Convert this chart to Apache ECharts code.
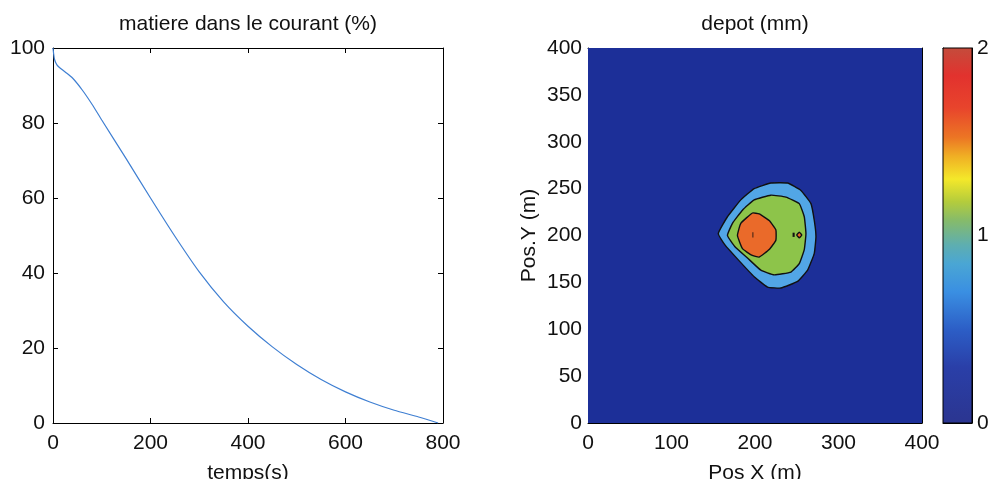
<!DOCTYPE html>
<html>
<head>
<meta charset="utf-8">
<script src="https://cdn.jsdelivr.net/npm/echarts@6/dist/echarts.min.js"></script>
<style>
html,body{margin:0;padding:0;background:#fff;}
#c{width:989px;height:479px;}
</style>
</head>
<body>
<div id="c"></div>
<script>
// ---- left panel: matter remaining in the current (%) vs time (s)
const timeS      = [0, 3, 8, 15, 25, 40, 60, 80, 100, 150, 200, 250, 300, 350, 400, 450, 500, 550, 600, 650, 700, 750, 790];
const matierePct = [100, 97, 95.5, 94.6, 93.6, 92, 88.8, 85, 80.8, 70.5, 60, 49.8, 40.3, 32.3, 25.8, 20.3, 15.6, 11.6, 8.3, 5.6, 3.4, 1.6, 0];

// ---- right panel: deposit (mm) contour regions, in metres
const contourDomain = [[0, 0], [400, 0], [400, 400], [0, 400]];
const contourBlue = [[156, 202], [167, 220], [183, 238], [199, 250], [219, 256], [239, 256], [255, 248], [267, 234], [271, 216], [273, 199], [271, 181], [263, 163], [251, 151], [231, 144], [215, 145], [199, 156], [180, 174], [164, 190]];
const contourGreen = [[167, 200], [173, 213], [185, 227], [199, 238], [219, 243], [237, 241], [253, 234], [259, 220], [261, 202], [259, 185], [253, 170], [243, 161], [223, 158], [207, 163], [191, 176], [176, 188]];
const contourOrange = [[179, 200], [183, 213], [197, 224], [205, 223], [217, 216], [225, 206], [225, 195], [217, 185], [205, 177], [196, 179], [185, 186]];
const contourSpot = [[250, 200.5], [253, 203.5], [256, 200.5], [253, 197.5]];
const contourMarkA = [[197, 198], [198, 198], [198, 203.5], [197, 203.5]];
const contourMarkB = [[245, 198.5], [247.5, 198.5], [247.5, 203], [245, 203]];
const depotRegions = [contourDomain, contourBlue, contourGreen, contourOrange, contourSpot, contourMarkA, contourMarkB];
const depotLevels  = [0, 0.6, 1.1, 1.75, 1.75, 2, 2];

// ---- colour bar
const cbarValues = [0, 0.3, 0.5, 0.7, 0.85, 0.95, 1.08, 1.18, 1.3, 1.42, 1.52, 1.68, 1.85, 2.0];
const cbarColors = ['#2b3590', '#2a3fa8', '#2c5ec6', '#3a8fe2', '#4aa6d4', '#5eaeb0', '#86bb6a', '#b4cc3c', '#f4e82a', '#f0b024', '#ec7624', '#e8442c', '#e2322e', '#c44c3c'];
const cbarRange = [0, 2];

const regionFill = ['#1c2f98', '#52a6e6', '#8dc44a', '#ea6a2a', '#ea6a2a', '#111', '#111'];

const FONT = "'Liberation Sans', Arial, Helvetica, sans-serif";
const TXT = '#111';
const FS = 21;

function ax(grid, pos, min, max, interval, labels, extra) {
  const a = {
    type: 'value', gridIndex: grid, position: pos, min: min, max: max, interval: interval,
    axisLine: { show: true, onZero: false, lineStyle: { color: '#000', width: 1 } },
    axisTick: { show: true, inside: true, length: 5, lineStyle: { color: '#000', width: 1 } },
    splitLine: { show: false },
    axisLabel: { show: labels, color: TXT, fontSize: FS, fontFamily: FONT, margin: 8 }
  };
  return Object.assign(a, extra || {});
}
const nameStyle = { fontSize: FS, color: TXT, fontFamily: FONT };

const chart = echarts.init(document.getElementById('c'), null, { renderer: 'canvas' });

const gradStops = cbarValues.map((v, i) => ({ offset: 1 - (v - cbarRange[0]) / (cbarRange[1] - cbarRange[0]), color: cbarColors[i] })).reverse();

chart.setOption({
  animation: false,
  backgroundColor: '#fff',
  title: [
    { text: 'matiere dans le courant (%)', left: 248, top: 14, textAlign: 'center', padding: 0,
      textStyle: { fontSize: FS, fontWeight: 'normal', color: TXT, fontFamily: FONT } },
    { text: 'depot (mm)', left: 755, top: 14, textAlign: 'center', padding: 0,
      textStyle: { fontSize: FS, fontWeight: 'normal', color: TXT, fontFamily: FONT } }
  ],
  grid: [
    { left: 53, top: 48, width: 390, height: 375, containLabel: false, outerBoundsMode: 'none' },
    { left: 588, top: 48, width: 334, height: 375, containLabel: false, outerBoundsMode: 'none' },
    { left: 943, top: 48, width: 29, height: 375, containLabel: false, outerBoundsMode: 'none' }
  ],
  xAxis: [
    ax(0, 'bottom', 0, 800, 200, true, { axisLabel: { color: TXT, fontSize: FS, fontFamily: FONT, margin: 10 },
      name: 'temps(s)', nameLocation: 'middle', nameGap: 40, nameTextStyle: nameStyle }),
    ax(0, 'top', 0, 800, 200, false),
    ax(1, 'bottom', 0, 400, 100, true, { axisLabel: { color: TXT, fontSize: FS, fontFamily: FONT, margin: 10 },
      name: 'Pos X (m)', nameLocation: 'middle', nameGap: 40, nameTextStyle: nameStyle }),
    ax(1, 'top', 0, 400, 100, false),
    ax(2, 'bottom', 0, 1, 1, false, { axisTick: { show: false } }),
    ax(2, 'top', 0, 1, 1, false, { axisTick: { show: false } })
  ],
  yAxis: [
    ax(0, 'left', 0, 100, 20, true),
    ax(0, 'right', 0, 100, 20, false),
    ax(1, 'left', 0, 400, 50, true, { axisLabel: { color: TXT, fontSize: FS, fontFamily: FONT, margin: 6 },
      name: 'Pos.Y (m)', nameLocation: 'middle', nameGap: 48, nameTextStyle: nameStyle }),
    ax(1, 'right', 0, 400, 50, false),
    ax(2, 'right', 0, 2, 1, true, { axisLabel: { color: TXT, fontSize: FS, fontFamily: FONT, margin: 5 }, axisTick: { show: true, inside: true, length: 3, lineStyle: { color: '#000' } } }),
    ax(2, 'left', 0, 2, 1, false, { axisTick: { show: true, inside: true, length: 3, lineStyle: { color: '#000' } } })
  ],
  series: [
    {
      type: 'line', xAxisIndex: 0, yAxisIndex: 0,
      data: timeS.map((t, i) => [t, matierePct[i]]),
      showSymbol: false, smooth: 0.2,
      lineStyle: { color: '#3f7fd2', width: 1.2 }
    },
    {
      type: 'custom', xAxisIndex: 2, yAxisIndex: 2, clip: true,
      data: depotRegions.map((r, i) => [i, depotLevels[i]]),
      encode: { x: -1, y: -1 },
      renderItem: function (params, api) {
        const i = api.value(0);
        const pts = depotRegions[i].map(p => api.coord(p));
        const isContour = i > 0 && i < 5;
        return {
          type: 'polygon',
          shape: { points: pts, smooth: isContour ? 0.12 : 0 },
          style: { fill: regionFill[i], stroke: isContour ? '#111' : null, lineWidth: isContour ? 1.4 : 0 }
        };
      }
    },
    {
      type: 'custom', xAxisIndex: 4, yAxisIndex: 4,
      data: [[0, cbarRange[0]]],
      renderItem: function (params, api) {
        const p0 = api.coord([0, cbarRange[1]]);
        const p1 = api.coord([1, cbarRange[0]]);
        return {
          type: 'rect',
          shape: { x: p0[0], y: p0[1], width: p1[0] - p0[0], height: p1[1] - p0[1] },
          style: { fill: new echarts.graphic.LinearGradient(0, 0, 0, 1, gradStops), stroke: '#000', lineWidth: 1 }
        };
      }
    }
  ]
});
</script>
</body>
</html>
